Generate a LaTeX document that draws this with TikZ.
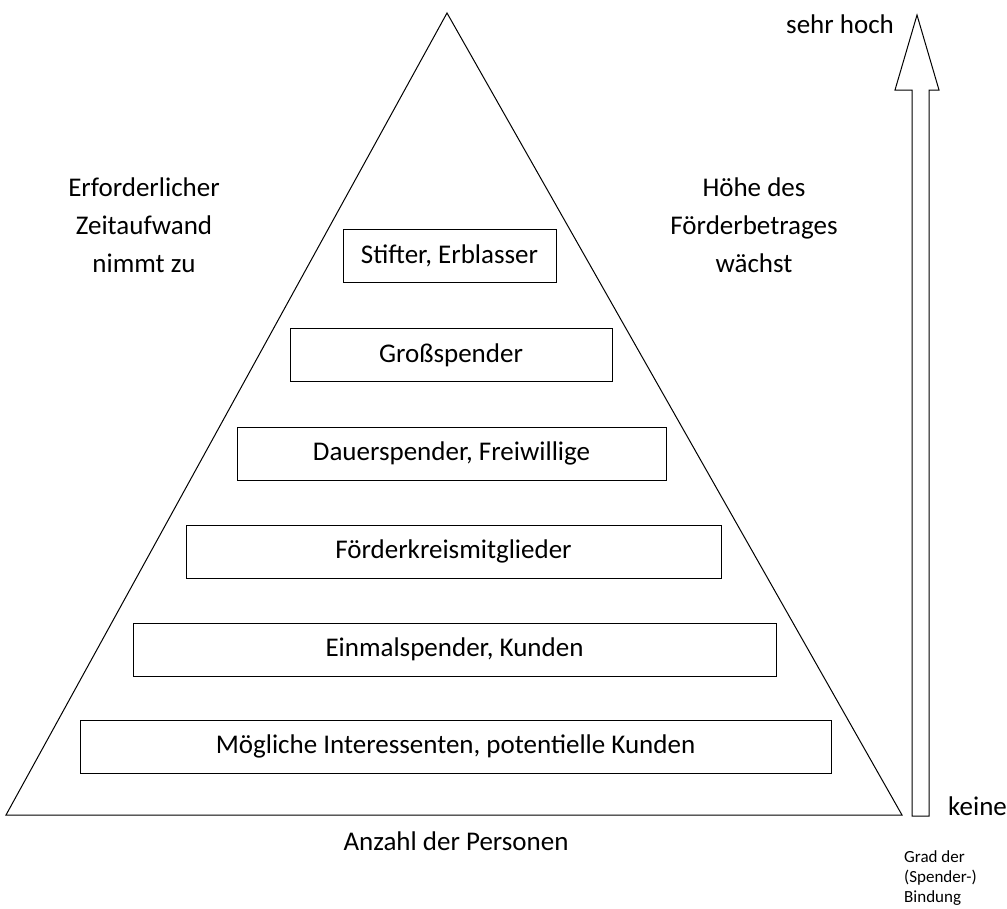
\documentclass[tikz,border=0pt]{standalone}
\usepackage{fontspec}
\setmainfont{Carlito}
\usepackage{tikz}

\tikzset{
  stufe/.style={draw, line width=1pt, minimum height=53pt, inner sep=0pt,
    font=\fontsize{27}{32}\selectfont},
  beschr/.style={align=center, inner sep=0pt, font=\fontsize{27}{38}\selectfont},
  klein/.style={align=left, inner sep=0pt, font=\fontsize{17}{20}\selectfont},
}

\begin{document}
\begin{tikzpicture}[x=1pt,y=-1pt]
  \useasboundingbox (0,0) rectangle (1007,908);
  % Pyramide
  \draw[line width=1pt] (447,13) -- (902,815) -- (6,815) -- cycle;
  \node [stufe, minimum width=213pt] (stifter) at (449.5,256) {Stifter, Erblasser};
  \node [stufe, minimum width=322pt] (gross) at (451,355) {Großspender};
  \node [stufe, minimum width=429pt] (dauer) at (451.5,453.5) {Dauerspender, Freiwillige};
  \node [stufe, minimum width=535pt] (foerder) at (453.5,551.5) {Förderkreismitglieder};
  \node [stufe, minimum width=643pt] (einmal) at (454.5,649.5) {Einmalspender, Kunden};
  \node [stufe, minimum width=751pt] (moeglich) at (455.5,746.5) {Mögliche Interessenten, potentielle Kunden};
  \node [beschr] (zeit) at (144,225) {Erforderlicher\\Zeitaufwand\\nimmt zu};
  \node [beschr] (hoehe) at (754,225) {Höhe des\\Förderbetrages\\wächst};
  \node [beschr, anchor=base] (anzahl) at (456,850) {Anzahl der Personen};
  % Pfeil rechts
  \draw[line width=1pt] (917,15) -- (939,90) -- (929,90) -- (929,816)
    -- (912,816) -- (912,90) -- (895,90) -- cycle;
  \node [beschr, anchor=base west] (hoch) at (786,33) {sehr hoch};
  \node [beschr, anchor=base west] (keine) at (948,815) {keine};
  \node [klein, anchor=base west] (grad) at (904,902) {Grad der\\(Spender-)\\Bindung};
\end{tikzpicture}
\end{document}
